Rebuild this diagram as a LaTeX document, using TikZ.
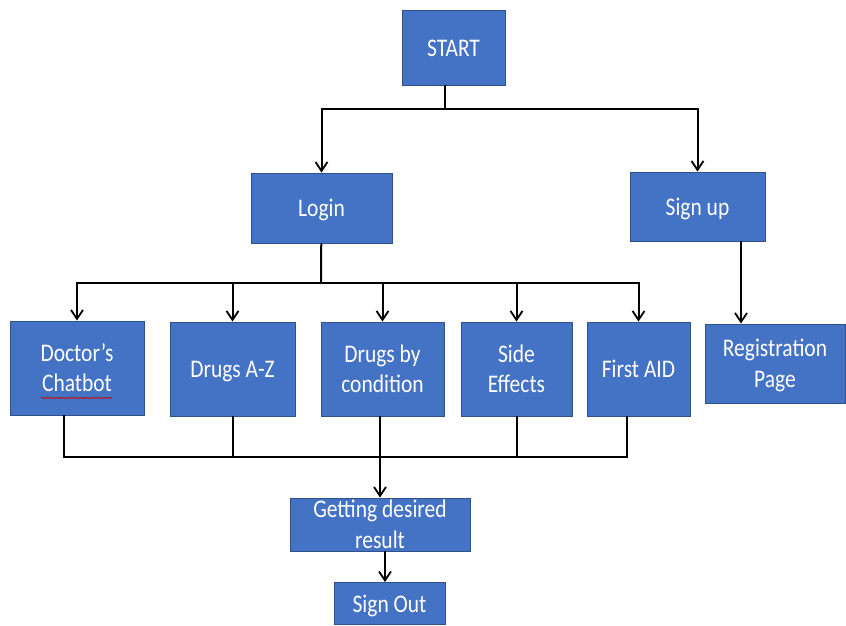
\documentclass[tikz,border=0pt]{standalone}
\usepackage{fontspec}
\setmainfont{Carlito}
\usetikzlibrary{arrows.meta,decorations.pathmorphing}

\definecolor{boxblue}{HTML}{4472C4}
\definecolor{boxline}{HTML}{2F528F}

% text of the boxes is a little taller than wide, and sits a little low
\newcommand\tallbox[1]{\raisebox{0pt}[\dimexpr\height+5pt\relax][\depth]{%
  \scalebox{1}[1.18]{\begin{tabular}{@{}c@{}}#1\end{tabular}}}}

\tikzset{
  box/.style={rectangle,fill=boxblue,draw=boxline,line width=0.8pt,
    text=white,align=center,inner sep=2pt,
    font=\fontsize{21.5}{25.5}\selectfont},
  link/.style={draw=black,line width=2pt},
  arrow/.style={link,-{Straight Barb[length=9pt,width=12pt,line width=1.8pt]}}
}

\begin{document}
\begin{tikzpicture}[x=1pt,y=-1pt]
      \useasboundingbox (0,0) rectangle (846,625);

      \begin{scope}[every node/.style={box}]
        \node[minimum width=103,minimum height=75] (start)  at (453.5,47.5) {\tallbox{START}};
        \node[minimum width=141,minimum height=70] (login)  at (321.5,208)  {\tallbox{Login}};
        \node[minimum width=135,minimum height=69] (signup) at (697.5,206.5) {\tallbox{Sign up}};
        \node[minimum width=140,minimum height=79] (reg)    at (775,363.5)  {\tallbox{Registration\\Page}};
        \node[minimum width=134,minimum height=94] (doc)    at (77,368)     {\tallbox{Doctor’s\\Chatbot}};
        \node[minimum width=125,minimum height=94] (az)     at (232.5,369)  {\tallbox{Drugs A-Z}};
        \node[minimum width=123,minimum height=94] (cond)   at (382.5,369)  {\tallbox{Drugs by\\condition}};
        \node[minimum width=111,minimum height=94] (side)   at (516.5,369)  {\tallbox{Side\\Effects}};
        \node[minimum width=103,minimum height=94] (aid)    at (638.5,369)  {\tallbox{First AID}};
        \node[minimum width=180,minimum height=53,inner ysep=-10pt] (get) at (380,524.5) {\tallbox{Getting desired\\result}};
        \node[minimum width=111,minimum height=42] (out)    at (389.5,603.5) {\tallbox{Sign Out}};
      \end{scope}

      % spell-check mark under Chatbot
      \draw[red!80!black,line width=0.6pt,
        decorate,decoration={snake,amplitude=0.8pt,segment length=3pt}]
        (41,398) -- (112,398);

      \coordinate (s1) at (445,109);
      \coordinate (l1) at (321,283);
      \coordinate (b1) at (380,457);

      % start -> login / sign up
      \draw[link] (start.south -| s1) -- (s1);
      \draw[arrow] (s1) -| (login);
      \draw[arrow] (s1) -| (signup);
      \draw[arrow] ([xshift=43.5pt]signup.south) -- ([xshift=43.5pt]signup.south |- reg.north);

      % login -> pages
      \draw[link] (login) -- (l1);
      \foreach \n in {doc,az,cond,side,aid}
        \draw[arrow] (l1) -| (\n);

      % pages -> result
      \foreach \n/\dx in {doc/-13,az/0,cond/-2.5,side/0.5,aid/-11.5}
        \draw[link] ([xshift=\dx pt]\n.south) |- (b1);
      \draw[arrow] (b1) -- (get);
      \draw[arrow] ([xshift=5pt]get.south) -- ([xshift=5pt]get.south |- out.north);

\end{tikzpicture}
\end{document}
